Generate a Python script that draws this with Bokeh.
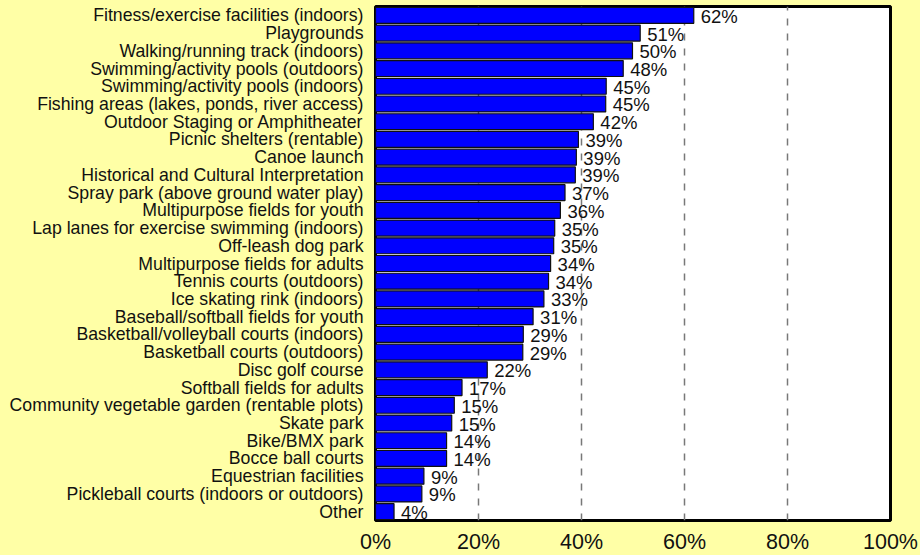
from bokeh.plotting import figure
from bokeh.models import ColumnDataSource, FactorRange, Range1d, FixedTicker, CustomJSTickFormatter
from bokeh.core.properties import value as pv
from bokeh.embed import file_html
from bokeh.resources import INLINE

categories = [
    "Fitness/exercise facilities (indoors)",
    "Playgrounds",
    "Walking/running track (indoors)",
    "Swimming/activity pools (outdoors)",
    "Swimming/activity pools (indoors)",
    "Fishing areas (lakes, ponds, river access)",
    "Outdoor Staging or Amphitheater",
    "Picnic shelters (rentable)",
    "Canoe launch",
    "Historical and Cultural Interpretation",
    "Spray park (above ground water play)",
    "Multipurpose fields for youth",
    "Lap lanes for exercise swimming (indoors)",
    "Off-leash dog park",
    "Multipurpose fields for adults",
    "Tennis courts (outdoors)",
    "Ice skating rink (indoors)",
    "Baseball/softball fields for youth",
    "Basketball/volleyball courts (indoors)",
    "Basketball courts (outdoors)",
    "Disc golf course",
    "Softball fields for adults",
    "Community vegetable garden (rentable plots)",
    "Skate park",
    "Bike/BMX park",
    "Bocce ball courts",
    "Equestrian facilities",
    "Pickleball courts (indoors or outdoors)",
    "Other",
]
values = [61.8, 51.4, 49.9, 48.1, 44.8, 44.7, 42.3, 39.4, 39.0, 38.8, 36.8, 35.9,
          34.8, 34.6, 34.0, 33.6, 32.7, 30.6, 28.7, 28.6, 21.7, 16.8, 15.3, 14.8,
          13.8, 13.8, 9.4, 9.0, 3.6]
value_labels = [f"{round(v)}%" for v in values]
x_ticks = [0, 20, 40, 60, 80, 100]
grid_ticks = [20, 40, 60, 80]

BG = "#FFFFA6"
FONT = "Liberation Sans"

source = ColumnDataSource(dict(cat=categories, val=values, lab=value_labels))

p = figure(
    width=920, height=555,
    frame_width=515, frame_height=514,
    y_range=FactorRange(factors=list(reversed(categories)), range_padding=0),
    x_range=Range1d(0, 100),
    output_backend="svg", toolbar_location=None,
    min_border_left=375, min_border_right=30, min_border_top=6, min_border_bottom=35,
)
p.background_fill_color = "white"
p.border_fill_color = BG
p.outline_line_color = "black"
p.outline_line_width = 3

p.hbar(y="cat", right="val", left=0, height=0.9, source=source,
       fill_color="#0000FF", line_color="#111111", line_width=1.2)

p.text(x="val", y="cat", text="lab", source=source, x_offset=7, y_offset=1,
       text_baseline="middle", text_align="left",
       text_font_size="18.5px", text_font=pv(FONT), text_color="#111111")

p.ygrid.grid_line_color = None
p.xgrid.ticker = FixedTicker(ticks=grid_ticks)
p.xgrid.grid_line_color = "#787878"
p.xgrid.grid_line_width = 1.5
p.xgrid.grid_line_dash = "7 8"

p.xaxis.ticker = FixedTicker(ticks=x_ticks)
p.xaxis.formatter = CustomJSTickFormatter(code="return tick + '%';")
p.xaxis.axis_line_color = None
p.xaxis.major_tick_line_color = None
p.xaxis.minor_tick_line_color = None
p.xaxis.major_tick_out = 0
p.xaxis.major_tick_in = 0
p.xaxis.major_label_text_font = FONT
p.xaxis.major_label_text_font_size = "21.5px"
p.xaxis.major_label_text_color = "#111111"
p.xaxis.major_label_standoff = 9

p.yaxis.axis_line_color = None
p.yaxis.major_tick_line_color = None
p.yaxis.minor_tick_line_color = None
p.yaxis.major_tick_out = 0
p.yaxis.major_tick_in = 0
p.yaxis.major_label_text_font = FONT
p.yaxis.major_label_text_font_size = "17.7px"
p.yaxis.major_label_text_color = "#111111"
p.yaxis.major_label_standoff = 12

html = file_html(p, INLINE)
html = html.replace("<head>", "<head><style>html,body{background:%s;}</style>" % BG, 1)
open("out.html", "w").write(html)
